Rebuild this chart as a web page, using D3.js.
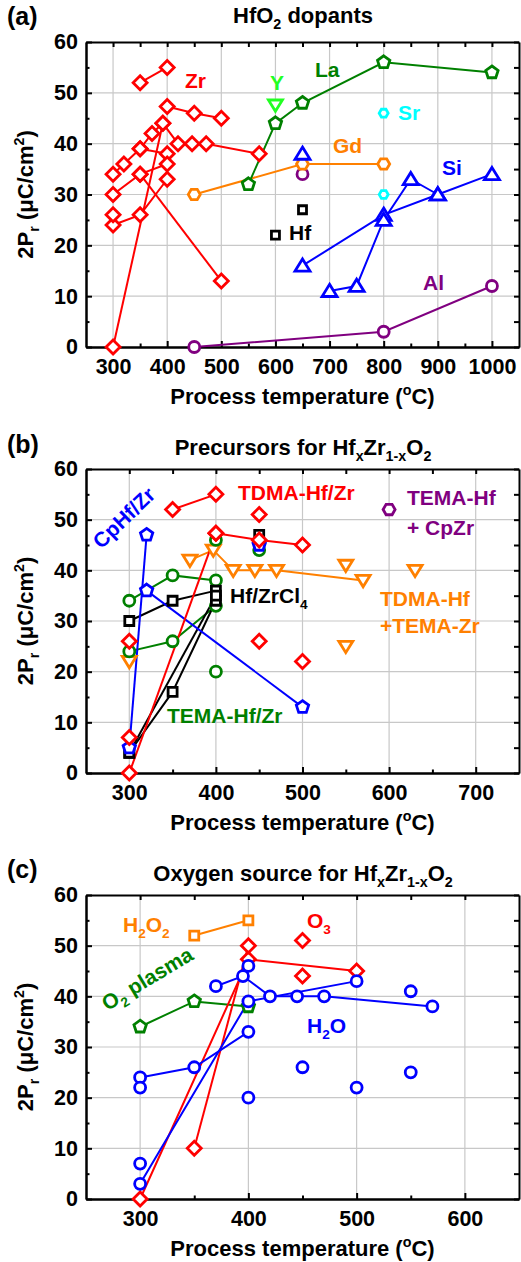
<!DOCTYPE html>
<html lang="en">
<head>
<meta charset="utf-8">
<title>2Pr vs process temperature</title>
<script src="https://cdn.jsdelivr.net/npm/d3@7"></script>
<style>
  body { margin: 0; background: #fff; }
  svg text { font-family: "Liberation Sans", Arial, Helvetica, sans-serif; font-weight: bold; }
</style>
</head>
<body>
<script>
// ---------- shared ticks ----------
var yTicks = [0, 10, 20, 30, 40, 50, 60];
var yMinor = [5, 15, 25, 35, 45, 55];

// ---------- (a) HfO2 dopants ----------
var xTicksA = [300, 400, 500, 600, 700, 800, 900, 1000];
var xMinorA = [350, 450, 550, 650, 750, 850, 950];
var zrDoped = [
  [[350, 52], [400, 55]],
  [[400, 47.3], [450, 46], [500, 45]],
  [[300, 34], [320, 36], [350, 39], [372, 42], [392, 44], [420, 40], [446, 40], [472, 40], [570, 38]],
  [[350, 39], [400, 38]],
  [[300, 30], [350, 34], [400, 36]],
  [[350, 34], [500, 13]],
  [[300, 24], [350, 26], [400, 33]],
  [[300, 0], [392, 44]],
  [[300, 26]]
];
var laDoped = [[[550, 32], [600, 44], [650, 48], [800, 56], [1000, 54]]];
var yDoped = [[[600, 47.6]]];
var gdDoped = [[[450, 30], [650, 36], [800, 36]]];
var srDoped = [[[800, 46]], [[800, 30]]];
var siDoped = [
  [[650, 16], [800, 26], [900, 30], [1000, 34]],
  [[700, 11], [750, 12], [800, 25], [850, 33], [900, 30]],
  [[650, 38]]
];
var hfOnly = [[[600, 22]], [[650, 27]]];
var alDoped = [[[450, 0], [800, 3], [1000, 12]], [[650, 34]]];

// ---------- (b) precursors ----------
var xTicksB = [300, 400, 500, 600, 700];
var xMinorB = [350, 450, 550, 650];
var tdmaHfZr = [
  [[350, 52], [400, 55]],
  [[400, 47.3], [450, 46], [500, 45]],
  [[300, 0], [400, 47.3]],
  [[450, 51]], [[450, 26]], [[500, 22]], [[300, 26]], [[300, 7]]
];
var hfZrCl4 = [
  [[300, 30], [350, 34], [400, 36]],
  [[300, 4], [350, 16], [400, 34]],
  [[300, 4], [400, 35]],
  [[450, 47]]
];
var temaHfZr = [
  [[300, 34], [350, 39], [400, 38]],
  [[300, 24], [350, 26], [400, 33]],
  [[400, 46]], [[400, 20]], [[450, 44]]
];
var cpHfZr = [
  [[300, 5], [320, 47]],
  [[320, 36], [500, 13]],
  [[450, 45]]
];
var tdmaTema = [
  [[370, 42], [397, 44], [420, 40], [445, 40], [470, 40], [570, 38]],
  [[300, 22]], [[550, 41]], [[550, 25]], [[630, 40]]
];
var temaCpZr = [[[600, 52]]];

// ---------- (c) oxygen source ----------
var xTicksC = [300, 400, 500, 600];
var xMinorC = [350, 450, 550];
var h2o2Src = [[[350, 52], [400, 55]]];
var o3Src = [
  [[300, 0], [400, 47.3], [500, 45]],
  [[350, 10], [400, 50]],
  [[450, 51]], [[450, 44]]
];
var o2Plasma = [[[300, 34], [350, 39], [400, 38]]];
var h2oSrc = [
  [[300, 24], [350, 26], [400, 33]],
  [[300, 3], [400, 39], [500, 43]],
  [[370, 42], [395, 44], [420, 40], [445, 40], [470, 40], [570, 38]],
  [[400, 46]], [[300, 22]], [[300, 7]], [[400, 20]],
  [[450, 26]], [[500, 22]], [[550, 41]], [[550, 25]]
];

// ---------- drawing ----------
var W = 521, H = 1262;
var left = 86, right = 519;
var RED = "#ff0000", GREEN = "#008000", LIME = "#22ff22", ORANGE = "#ff8000",
    CYAN = "#00ffff", BLUE = "#0000ff", PURPLE = "#800080", BLACK = "#000000";

var svg = d3.select("body").append("svg").attr("width", W).attr("height", H);

function polygon(n, r, start) {
  var pts = d3.range(n).map(function(i) {
    var a = start + i * 2 * Math.PI / n;
    return [r * Math.cos(a), r * Math.sin(a)];
  });
  return "M" + pts.map(function(p) { return p[0].toFixed(2) + "," + p[1].toFixed(2); }).join("L") + "Z";
}

function shapePath(type, s) {
  if (type == "diamond") return "M0," + (-s) + "L" + s + ",0L0," + s + "L" + (-s) + ",0Z";
  if (type == "square") return "M" + (-s) + "," + (-s) + "H" + s + "V" + s + "H" + (-s) + "Z";
  if (type == "triUp") return "M0," + (-s * 0.9) + "L" + s + "," + (s * 0.72) + "L" + (-s) + "," + (s * 0.72) + "Z";
  if (type == "triDown") return "M0," + (s * 0.9) + "L" + s + "," + (-s * 0.72) + "L" + (-s) + "," + (-s * 0.72) + "Z";
  if (type == "pentagon") return polygon(5, s, -Math.PI / 2);
  if (type == "hexagon") return polygon(6, s, 0);
  // circle
  return "M" + (-s) + ",0A" + s + "," + s + " 0 1,0 " + s + ",0A" + s + "," + s + " 0 1,0 " + (-s) + ",0Z";
}

// text with sub / superscripts: parts = [[text, mode], ...]
function rich(sel, parts, fs) {
  var shift = 0;
  parts.forEach(function(p) {
    var mode = p[1];
    var target = mode == "sub" ? 0.28 * fs : (mode == "sup" ? -0.42 * fs : 0);
    sel.append("tspan")
      .attr("dy", target - shift)
      .attr("font-size", mode ? fs * 0.65 : fs)
      .text(p[0]);
    shift = target;
  });
}

function drawPanel(p) {
  var x = d3.scaleLinear().domain(p.xDomain).range([left, right]);
  var y = d3.scaleLinear().domain([0, 60]).range([p.bottom, p.top]);
  var g = svg.append("g");

  // grid
  g.append("g").selectAll("line").data(p.xTicks).join("line")
    .attr("x1", function(d) { return x(d); }).attr("x2", function(d) { return x(d); })
    .attr("y1", p.top).attr("y2", p.bottom)
    .attr("stroke", "#c8c8c8").attr("stroke-width", 1.2);
  g.append("g").selectAll("line").data(yTicks.slice(1, -1)).join("line")
    .attr("y1", function(d) { return y(d); }).attr("y2", function(d) { return y(d); })
    .attr("x1", left).attr("x2", right)
    .attr("stroke", "#c8c8c8").attr("stroke-width", 1.2);

  // axes, ticks pointing inward on all four sides
  function styleAxis(sel) {
    sel.attr("font-size", 21.5).attr("font-family", null);
    sel.selectAll("line").attr("stroke-width", 2);
    sel.select(".domain").attr("stroke-width", 2);
  }
  g.append("g").attr("transform", "translate(0," + p.bottom + ")")
    .call(d3.axisBottom(x).tickValues(p.xTicks).tickFormat(d3.format("d"))
      .tickSize(-6).tickSizeOuter(0).tickPadding(12)).call(styleAxis);
  g.append("g").attr("transform", "translate(0," + p.bottom + ")")
    .call(d3.axisBottom(x).tickValues(p.xMinor).tickSize(-3.5).tickSizeOuter(0).tickFormat("")).call(styleAxis);
  g.append("g").attr("transform", "translate(0," + p.top + ")")
    .call(d3.axisTop(x).tickValues(p.xTicks.concat(p.xMinor)).tickSize(-5).tickSizeOuter(0).tickFormat("")).call(styleAxis);
  g.append("g").attr("transform", "translate(" + left + ",0)")
    .call(d3.axisLeft(y).tickValues(yTicks).tickSize(-6).tickSizeOuter(0).tickPadding(8)).call(styleAxis);
  g.append("g").attr("transform", "translate(" + left + ",0)")
    .call(d3.axisLeft(y).tickValues(yMinor).tickSize(-3.5).tickSizeOuter(0).tickFormat("")).call(styleAxis);
  g.append("g").attr("transform", "translate(" + right + ",0)")
    .call(d3.axisRight(y).tickValues(yTicks.concat(yMinor)).tickSize(-5).tickSizeOuter(0).tickFormat("")).call(styleAxis);

  // lines
  var line = d3.line().x(function(d) { return x(d[0]); }).y(function(d) { return y(d[1]); });
  p.groups.forEach(function(gr) {
    gr.data.filter(function(s) { return s.length > 1; }).forEach(function(s) {
      g.append("path").attr("d", line(s)).attr("fill", "none")
        .attr("stroke", gr.color).attr("stroke-width", 2);
    });
  });
  // markers
  p.groups.forEach(function(gr) {
    var pts = [].concat.apply([], gr.data);
    g.append("g").selectAll("path").data(pts).join("path")
      .attr("transform", function(d) { return "translate(" + x(d[0]) + "," + y(d[1]) + ")"; })
      .attr("d", shapePath(gr.shape, gr.size))
      .attr("fill", "#fff").attr("stroke", gr.color).attr("stroke-width", 2.8);
  });

  // axis titles
  rich(g.append("text").attr("text-anchor", "middle")
    .attr("transform", "translate(33," + ((p.top + p.bottom) / 2) + ") rotate(-90)"),
    [["2P"], ["r", "sub"], [" (\u03bcC/cm"], ["2", "sup"], [")"]], 22);
  rich(g.append("text").attr("text-anchor", "middle").attr("x", (left + right) / 2).attr("y", p.bottom + 57),
    [["Process temperature ("], ["o", "sup"], ["C)"]], 22);

  // panel letter and title
  g.append("text").attr("x", 7).attr("y", p.letterY).attr("font-size", 25).text(p.letter);
  rich(g.append("text").attr("text-anchor", "middle").attr("x", 303).attr("y", p.titleY), p.title, 22);

  // in-plot labels
  p.labels.forEach(function(l) {
    var t = g.append("text").attr("fill", l.color).attr("font-size", 21);
    if (l.rotate) {
      t.attr("text-anchor", "middle")
        .attr("transform", "translate(" + l.x + "," + l.y + ") rotate(" + l.rotate + ")");
    } else {
      t.attr("x", l.x).attr("y", l.y);
    }
    rich(t, l.parts, 21);
  });
}

var panels = [
  {
    letter: "(a)", letterY: 25, titleY: 23,
    title: [["HfO"], ["2", "sub"], [" dopants"]],
    top: 42, bottom: 347, xDomain: [250, 1050], xTicks: xTicksA, xMinor: xMinorA,
    groups: [
      {data: alDoped, color: PURPLE, shape: "circle", size: 5.5},
      {data: gdDoped, color: ORANGE, shape: "hexagon", size: 6},
      {data: laDoped, color: GREEN, shape: "pentagon", size: 6.5},
      {data: yDoped, color: LIME, shape: "triDown", size: 7},
      {data: srDoped, color: CYAN, shape: "hexagon", size: 4.5},
      {data: siDoped, color: BLUE, shape: "triUp", size: 7.5},
      {data: hfOnly, color: BLACK, shape: "square", size: 4},
      {data: zrDoped, color: RED, shape: "diamond", size: 7}
    ],
    labels: [
      {parts: [["Zr"]], x: 185, y: 88, color: RED},
      {parts: [["La"]], x: 315, y: 77, color: GREEN},
      {parts: [["Y"]], x: 270, y: 90, color: LIME},
      {parts: [["Sr"]], x: 398, y: 120, color: CYAN},
      {parts: [["Gd"]], x: 333, y: 153, color: ORANGE},
      {parts: [["Si"]], x: 442, y: 175, color: BLUE},
      {parts: [["Hf"]], x: 289, y: 240, color: BLACK},
      {parts: [["Al"]], x: 423, y: 290, color: PURPLE}
    ]
  },
  {
    letter: "(b)", letterY: 453, titleY: 455,
    title: [["Precursors for Hf"], ["x", "sub"], ["Zr"], ["1-x", "sub"], ["O"], ["2", "sub"]],
    top: 469, bottom: 773, xDomain: [250, 750], xTicks: xTicksB, xMinor: xMinorB,
    groups: [
      {data: temaCpZr, color: PURPLE, shape: "hexagon", size: 6},
      {data: tdmaTema, color: ORANGE, shape: "triDown", size: 7},
      {data: temaHfZr, color: GREEN, shape: "circle", size: 5.5},
      {data: hfZrCl4, color: BLACK, shape: "square", size: 4.5},
      {data: cpHfZr, color: BLUE, shape: "pentagon", size: 6.5},
      {data: tdmaHfZr, color: RED, shape: "diamond", size: 7}
    ],
    labels: [
      {parts: [["TDMA-Hf/Zr"]], x: 238, y: 500, color: RED},
      {parts: [["TEMA-Hf"]], x: 407, y: 505, color: PURPLE},
      {parts: [["+ CpZr"]], x: 407, y: 535, color: PURPLE},
      {parts: [["CpHf/Zr"]], x: 129, y: 523, rotate: -44, color: BLUE},
      {parts: [["Hf/ZrCl"], ["4", "sub"]], x: 230, y: 603, color: BLACK},
      {parts: [["TDMA-Hf"]], x: 380, y: 606, color: ORANGE},
      {parts: [["+TEMA-Zr"]], x: 380, y: 633, color: ORANGE},
      {parts: [["TEMA-Hf/Zr"]], x: 167, y: 723, color: GREEN}
    ]
  },
  {
    letter: "(c)", letterY: 878, titleY: 881,
    title: [["Oxygen source for Hf"], ["x", "sub"], ["Zr"], ["1-x", "sub"], ["O"], ["2", "sub"]],
    top: 895, bottom: 1199, xDomain: [250, 650], xTicks: xTicksC, xMinor: xMinorC,
    groups: [
      {data: h2o2Src, color: ORANGE, shape: "square", size: 4.5},
      {data: o2Plasma, color: GREEN, shape: "pentagon", size: 6.5},
      {data: o3Src, color: RED, shape: "diamond", size: 7},
      {data: h2oSrc, color: BLUE, shape: "circle", size: 5.5}
    ],
    labels: [
      {parts: [["H"], ["2", "sub"], ["O"], ["2", "sub"]], x: 123, y: 932, color: ORANGE},
      {parts: [["O"], ["3", "sub"]], x: 307, y: 928, color: RED},
      {parts: [["H"], ["2", "sub"], ["O"]], x: 307, y: 1033, color: BLUE},
      {parts: [["O"], ["2", "sub"], [" plasma"]], x: 151, y: 985, rotate: -31, color: GREEN}
    ]
  }
];

panels.forEach(drawPanel);
</script>
</body>
</html>
